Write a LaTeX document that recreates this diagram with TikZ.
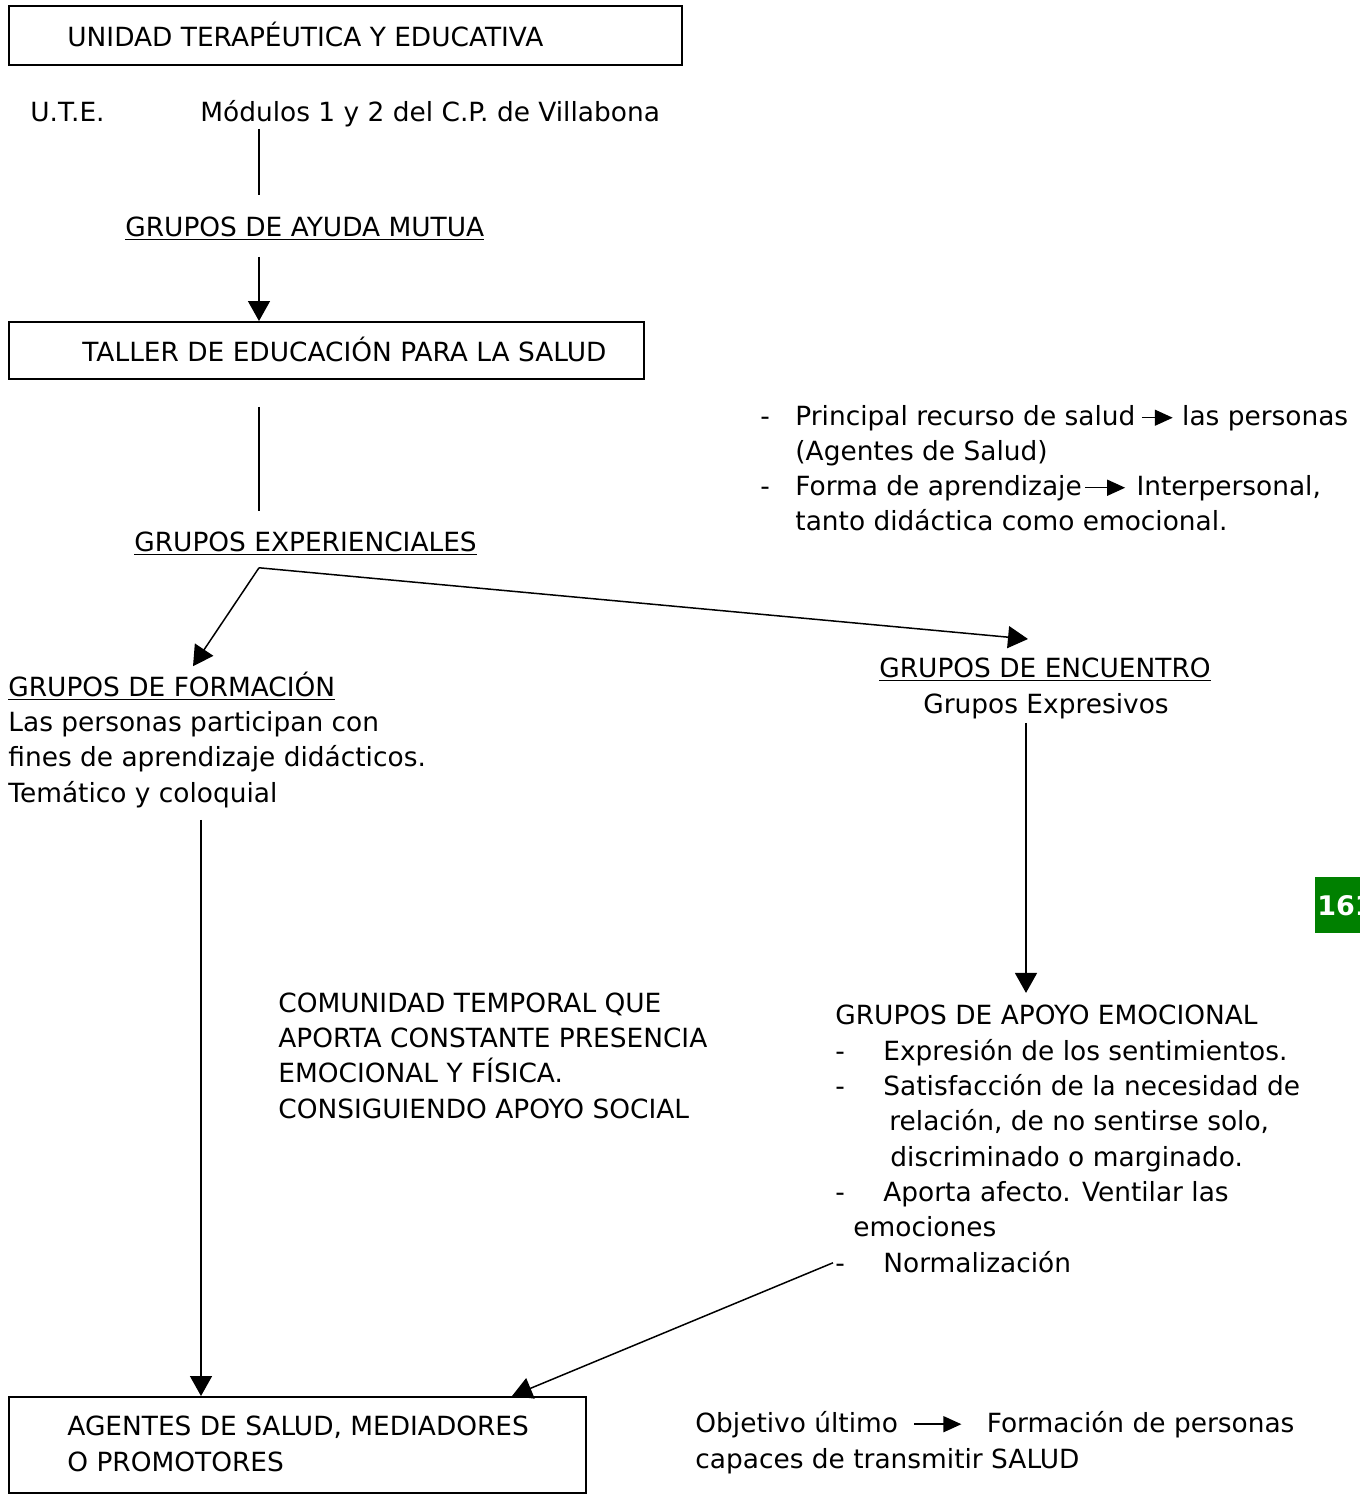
\documentclass[tikz,border=0pt]{standalone}
\usepackage{fontspec}
\setmainfont{DejaVu Sans}
\usetikzlibrary{arrows.meta}
\usetikzlibrary{positioning}
\usetikzlibrary{calc}

\definecolor{pagegreen}{RGB}{0,128,0}
\newcommand{\dashitem}{\makebox[24pt][l]{-}}

\tikzset{
  box/.style={draw, line width=0.9pt, anchor=north west, inner sep=0pt},
  txt/.style={anchor=base west, inner sep=1pt, align=left},
  arr/.style={-{Triangle[length=10pt,width=11pt]}, line width=0.75pt},
  smallarr/.style={-{Triangle[length=9pt,width=8pt]}, line width=0.75pt},
  link/.style={line width=0.75pt},
}

\begin{document}
\begin{tikzpicture}[x=0.5pt,y=-0.5pt,font=\fontsize{13.2}{17.65}\selectfont]
	\clip (0,0) rectangle (1360,1495);
	\fill[white] (0,0) rectangle (1360,1495);

	\coordinate (stemA) at (259,0);
	\coordinate (stemB) at (201,0);
	\coordinate (stemC) at (1026,0);

	% top part
	\node[box, minimum width=336.5pt, minimum height=29.5pt] (ubox) at (8,5) {};
	\node[txt] (utename) at (65,46) {UNIDAD TERAPÉUTICA Y EDUCATIVA};
	\node[txt] (ute) at (28,121) {U.T.E.};
	\node[txt] (modulos) at (198,121) {Módulos 1 y 2 del C.P. de Villabona};
	\node[txt] (gam) at (123,236) {\underline{GRUPOS DE AYUDA MUTUA}};
	\node[box, minimum width=317.5pt, minimum height=28.5pt] (tbox) at (8,321) {};
	\node[txt] (taller) at (80,361) {TALLER DE EDUCACIÓN PARA LA SALUD};
	\node[txt] (gexp) at (132,551) {\underline{GRUPOS EXPERIENCIALES}};

	% note on the right
	\node[txt] (dash1) at (758,425) {-};
	\node[txt] (rec) at (793,425) {Principal recurso de salud};
	\node[txt] (pers) [base right=21pt of rec] {las personas};
	\node[txt] (agsal) at (793,460) {(Agentes de Salud)};
	\node[txt] (dash2) at (758,495) {-};
	\node[txt] (forma) at (793,495) {Forma de aprendizaje};
	\node[txt] (inter) [base right=25pt of forma] {Interpersonal,};
	\node[txt] (tanto) at (793,530) {tanto didáctica como emocional.};

	% the two kinds of groups (base = last line)
	\node[txt] (gform) at (6,802) {\underline{GRUPOS DE FORMACIÓN}\\Las personas participan con\\fines de aprendizaje didácticos.\\Temático y coloquial};
	\node[anchor=base, inner sep=1pt] (genc) at (1045,677) {\underline{GRUPOS DE ENCUENTRO}};
	\node[anchor=base, inner sep=1pt] (gexpres) at (1046,713) {Grupos Expresivos};

	\node[fill=pagegreen, text=white, font=\fontsize{13.5}{17.65}\selectfont\bfseries, anchor=north west, minimum height=28pt, inner xsep=1pt] (pagenum) at (1315,877) {161};

	\node[txt] (comunidad) at (276,1118) {COMUNIDAD TEMPORAL QUE\\APORTA CONSTANTE PRESENCIA\\EMOCIONAL Y FÍSICA.\\CONSIGUIENDO APOYO SOCIAL};
	\node[txt] (apoyo) at (833,1272) {GRUPOS DE APOYO EMOCIONAL\\
		\dashitem Expresión de los sentimientos.\\
		\dashitem Satisfacción de la necesidad de\\
		\hspace*{27pt}relación, de no sentirse solo,\\
		\hspace*{27.5pt}discriminado o marginado.\\
		\dashitem Aporta afecto. Ventilar las\\
		\hspace*{9pt}emociones\\
		\dashitem Normalización};

	% bottom part
	\node[box, minimum width=288.5pt, minimum height=48pt] (abox) at (8,1396) {};
	\node[txt] (agentes) at (65,1471) {AGENTES DE SALUD, MEDIADORES\\O PROMOTORES};
	\node[txt] (obj) at (693,1432) {Objetivo último};
	\node[txt] (formacion) [base right=42pt of obj] {Formación de personas};
	\node[txt] (capaces) at (693,1468) {capaces de transmitir SALUD};

	\coordinate[yshift=-5pt] (fork) at (gexp.south -| stemA);

	\draw[link, shorten >=9.5pt] (modulos.south -| stemA) -- (gam.north -| stemA);
	\draw[arr, shorten <=7pt] (gam.south -| stemA) -- (tbox.north -| stemA);
	\draw[link, shorten <=13.5pt, shorten >=9pt] (tbox.south -| stemA) -- (gexp.north -| stemA);
	\draw[arr] (fork) -- ($(gform.north west)+(187,-3)$);
	\draw[arr] (fork) -- ($(genc.north -| stemC)+(2,-16)$);
	\draw[arr, shorten <=1pt, shorten >=5pt] (gexpres.south -| stemC) -- (apoyo.north -| stemC);
	\draw[arr, shorten <=5pt] (gform.south -| stemB) -- (abox.north -| stemB);
	\draw[arr] ($(apoyo.south west)+(0,-12)$) -- ($(abox.north west)+(504,0)$);

	\draw[smallarr, shorten <=2pt, shorten >=3.5pt] (rec) -- (pers);
	\draw[smallarr, shorten <=0.5pt, shorten >=4.5pt] (forma) -- (inter);
	\draw[smallarr, shorten <=7pt, shorten >=11.5pt] (obj) -- (formacion);
\end{tikzpicture}
\end{document}
